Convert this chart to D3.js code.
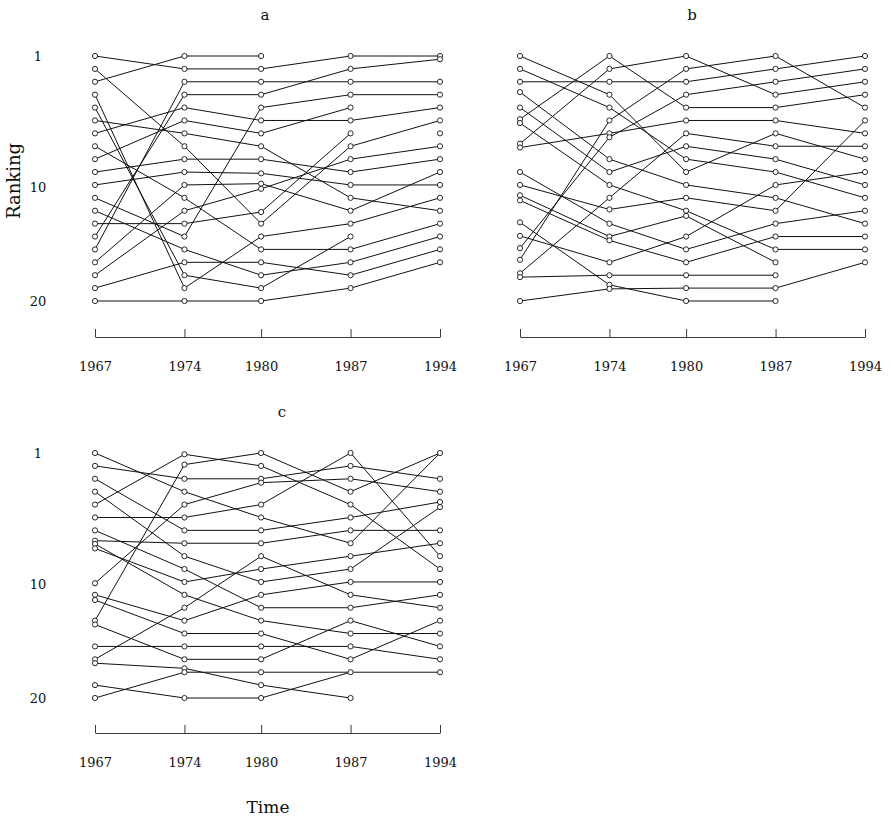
<!DOCTYPE html>
<html>
<head>
<meta charset="utf-8">
<script src="https://cdn.jsdelivr.net/npm/d3@7"></script>
<style>
  body { margin: 0; background: #fff; }
  text { font-family: "DejaVu Serif", "Liberation Serif", serif; fill: #111; }
</style>
</head>
<body>
<div id="chart"></div>
<script>
// time points and rank ticks
const years = [1967, 1974, 1980, 1987, 1994];
const rankTicks = [1, 10, 20];
// the printed "10" sits a little below rank 10 in the original
const rankTickAt = [1, 11.2, 20];

// rank transitions per interval: [rank at start, rank at end]
const linksA = [
  [[1,2],[2,8],[3,1],[4,19],[5,18],[6,7],[7,5],[8,12],[9,6],[10,9],[11,10],[12,15],[13,16],[14,14],[15,4],[16,3],[17,11],[18,13],[19,17],[20,20]],
  [[1,1],[2,2],[3,3],[4,4],[5,6],[6,7],[7,8],[8,14],[9,9],[10,10.1],[11,10.9],[12,16],[13,11.3],[14,13.1],[15,5],[16,18],[17,17],[18,19],[19,15],[20,20]],
  [[2,1],[3,3],[4,2],[5,4],[6,6],[7,5],[8,12],[9,10],[10.1,11],[10.9,13],[11.3,9],[13.1,7],[14,8],[15,14],[16,16],[17,18],[18,17],[19,15],[20,19]],
  [[1,1],[2,1.25],[3,3],[4,4],[6,5],[8,6],[9,8],[10,9],[11,11],[12,13],[13,10],[14,12],[16,14],[17,15],[18,16],[19,17]]
];
const soloA = [[1980, 1], [1987, 5], [1987, 7], [1987, 15], [1994, 7]];

const linksB = [
  [[1,4],[2,5],[3,3],[3.8,9],[5,10],[5.9,1],[6.2,11],[7.8,2],[8.1,7],[10,14],[11,12.9],[11.8,15],[12.2,15.3],[13.9,18.75],[14.95,17],[15.9,7.3],[16.8,6],[17.85,12],[18.15,18],[20,19.06]],
  [[1,5],[2,1],[3,3],[4,10],[5,9],[6,2],[7,6],[7.3,4],[9,11],[10,8],[11,13],[12,7],[12.9,12],[14,16],[15,13.4],[15.3,17],[17,15],[18,18],[18.75,20],[19.06,19]],
  [[1,4],[2,1],[3,2],[4,3],[5,5],[6,6],[7,8],[8,9],[9,10],[10,7],[11,12],[12,13],[13,16],[13.4,17],[15,11],[16,14],[17,15],[18,18],[19,19],[20,20]],
  [[1,5],[2,1],[3,2],[4,3],[5,4],[6,7],[7,9],[8,8],[9,11],[10,12],[11,10],[12,14],[13,6],[14,13],[15,15],[16,16],[19,17]]
];
const soloB = [];

const linksC = [
  [[1,4],[2,3],[3,7],[4,9],[5,1.1],[6,6],[7,10],[7.8,8],[8.05,12],[8.4,11],[11.1,5],[12,14],[12.4,15],[14,1.9],[14.3,17],[16,16],[17,13],[17.3,17.7],[19,20],[20,18]],
  [[1.1,2],[1.9,1],[3,3],[4,6],[5,3.3],[6,5],[7,7],[8,8],[9,11],[10,13],[11,10],[12,14],[13,9],[14,12],[15,15],[16,16],[17,17],[17.7,19],[18,18],[20,20]],
  [[1,4],[2,5],[3,2],[3.3,3],[5,1],[6,8],[7,6],[8,7],[9,12],[10,9],[11,10],[12,11],[13,13],[14,15],[15,17],[16,16],[17,14],[18,18],[19,20],[20,18]],
  [[1,9],[2,3],[3,4],[4,1],[5,10],[6,4.8],[7,7],[8,1],[9,8],[10,5.2],[11,11],[12,13],[13,12],[14,16],[15,15],[16,17],[17,14],[18,18]]
];
const soloC = [];

const W = 891, H = 824;
const svg = d3.select('#chart').append('svg')
  .attr('width', W)
  .attr('height', H);

const panels = [
  { name: 'a', links: linksA, solo: soloA, left: 95,  top: 56,  axisY: 337, titleX: 265, rankLabels: true },
  { name: 'b', links: linksB, solo: soloB, left: 520, top: 56,  axisY: 337, titleX: 692, rankLabels: false },
  { name: 'c', links: linksC, solo: soloC, left: 95,  top: 453, axisY: 733, titleX: 282, rankLabels: true }
];

panels.forEach(p => {
  const x = d3.scaleLinear().domain([1967, 1994]).range([p.left, p.left + 345]);
  const y = d3.scaleLinear().domain([1, 20]).range([p.top, p.top + 245]);
  const g = svg.append('g');

  // title
  g.append('text')
    .attr('x', p.titleX)
    .attr('y', p.top - 36)
    .attr('text-anchor', 'middle')
    .style('font-size', '15px')
    .text(p.name);

  // segments
  const segs = [];
  const pts = new Map();
  p.links.forEach((list, i) => {
    list.forEach(([r0, r1]) => {
      segs.push({ y0: years[i], r0: r0, y1: years[i + 1], r1: r1 });
      pts.set(years[i] + '_' + r0, [years[i], r0]);
      pts.set(years[i + 1] + '_' + r1, [years[i + 1], r1]);
    });
  });
  p.solo.forEach(d => pts.set(d[0] + '_' + d[1], d));

  g.selectAll('line.seg')
    .data(segs)
    .enter()
    .append('line')
    .attr('class', 'seg')
    .attr('x1', d => x(d.y0))
    .attr('y1', d => y(d.r0))
    .attr('x2', d => x(d.y1))
    .attr('y2', d => y(d.r1))
    .attr('stroke', '#111')
    .attr('stroke-width', 1);

  g.selectAll('circle')
    .data(Array.from(pts.values()))
    .enter()
    .append('circle')
    .attr('cx', d => x(d[0]))
    .attr('cy', d => y(d[1]))
    .attr('r', 2.6)
    .attr('fill', '#fff')
    .attr('stroke', '#111')
    .attr('stroke-width', 0.9);

  // time axis, ticks pointing up
  const axis = d3.axisBottom(x)
    .tickValues(years)
    .tickFormat(d3.format('d'))
    .tickSizeInner(-8)
    .tickSizeOuter(0)
    .tickPadding(25);
  const ax = g.append('g')
    .attr('transform', `translate(0,${p.axisY})`)
    .call(axis);
  ax.select('.domain').attr('stroke', '#222').attr('stroke-width', 0.9);
  ax.selectAll('.tick line').attr('stroke', '#222').attr('stroke-width', 0.9);
  ax.selectAll('.tick text')
    .attr('fill', '#111')
    .style('font-family', '"DejaVu Serif", "Liberation Serif", serif')
    .style('font-size', '13px');

  if (p.rankLabels) {
    g.selectAll('text.rank')
      .data(rankTicks)
      .enter()
      .append('text')
      .attr('class', 'rank')
      .attr('x', 38)
      .attr('y', (d, i) => y(rankTickAt[i]))
      .attr('dy', '0.35em')
      .attr('text-anchor', 'middle')
      .style('font-size', '13px')
      .text(d => d);
  }
});

svg.append('text')
  .attr('transform', 'translate(20,181) rotate(-90)')
  .attr('text-anchor', 'middle')
  .style('font-size', '18px')
  .text('Ranking');

svg.append('text')
  .attr('x', 268)
  .attr('y', 813)
  .attr('text-anchor', 'middle')
  .style('font-size', '17px')
  .text('Time');
</script>
</body>
</html>
